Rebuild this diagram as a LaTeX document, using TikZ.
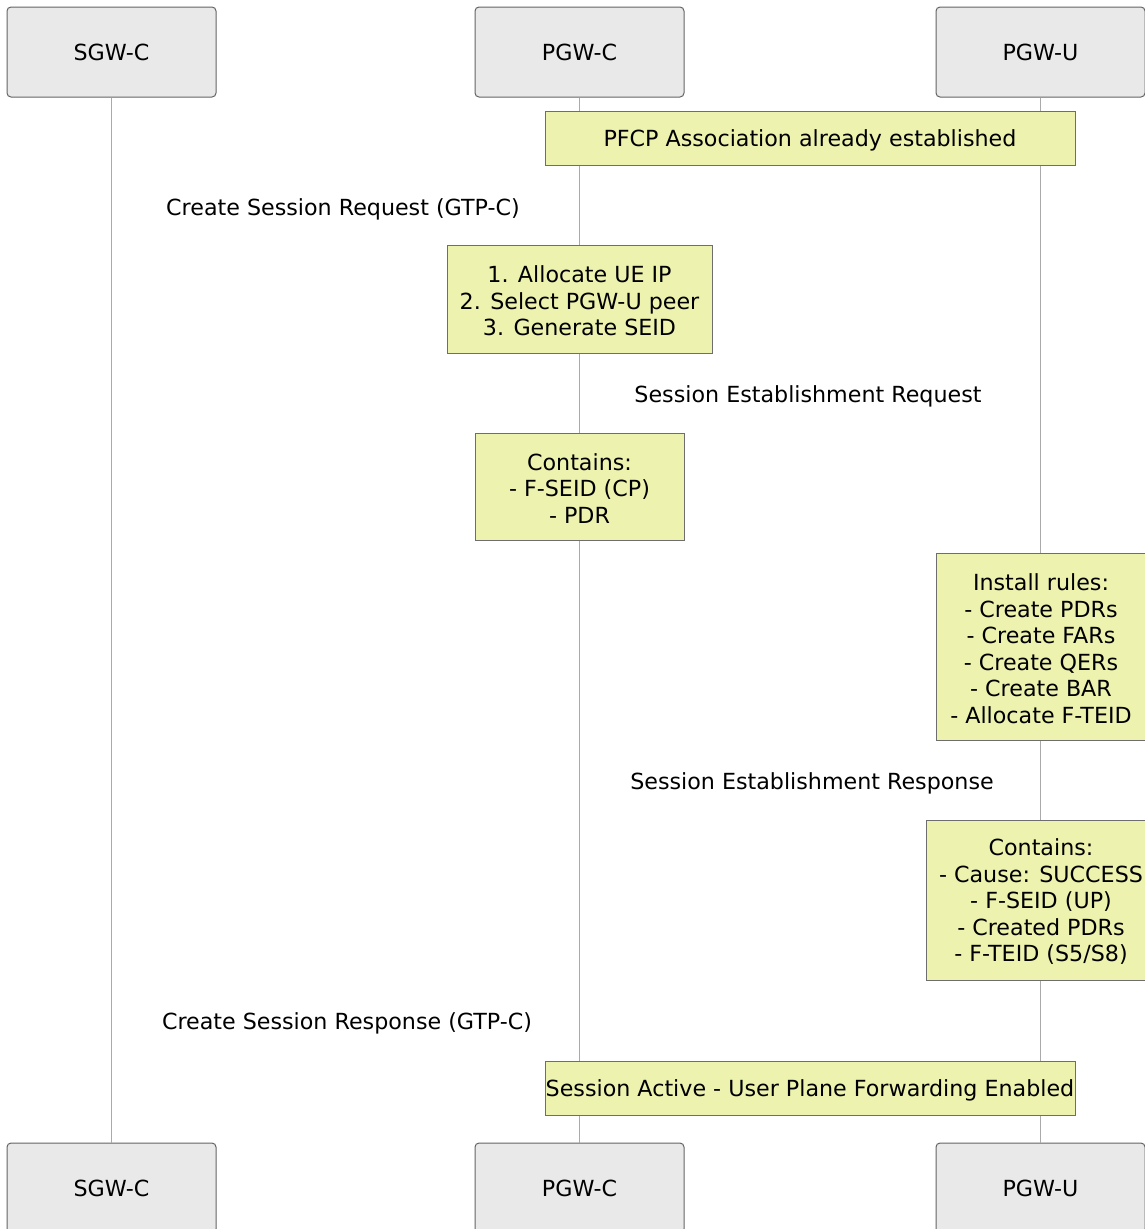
\documentclass[tikz,border=0pt]{standalone}
\usepackage{fontspec}
\setmainfont{DejaVu Sans}
\definecolor{notefill}{RGB}{237,242,174}
\definecolor{noteline}{RGB}{110,110,110}
\definecolor{partfill}{RGB}{233,233,233}
\definecolor{partline}{RGB}{100,100,100}
\definecolor{lifeline}{RGB}{170,170,170}
\tikzset{
  every node/.style={font=\fontsize{22.2}{26.5}\selectfont},
  part/.style={draw=partline, fill=partfill, rounded corners=4pt, line width=1pt,
    minimum width=209pt, minimum height=90pt, inner sep=0pt, align=center},
  note/.style={draw=noteline, fill=notefill, line width=1pt, inner sep=0pt},
  msg/.style={inner sep=0pt, align=center},
  life/.style={draw=lifeline, line width=1pt}
}
\begin{document}
\begin{tikzpicture}[x=1pt,y=1pt]
\useasboundingbox (0,0) rectangle (1145,-1229);
\clip (0,0) rectangle (1145,-1229);
% participants
\node[part] (sgwT) at (111.5,-52) {SGW-C};
\node[part] (pgwcT) at (579.5,-52) {PGW-C};
\node[part] (pgwuT) at (1040.5,-52) {PGW-U};
\node[part] (sgwB) at (111.5,-1188) {SGW-C};
\node[part] (pgwcB) at (579.5,-1188) {PGW-C};
\node[part] (pgwuB) at (1040.5,-1188) {PGW-U};
% lifelines
\draw[life] (sgwT.south) -- (sgwB.north);
\draw[life] (pgwcT.south) -- (pgwcB.north);
\draw[life] (pgwuT.south) -- (pgwuB.north);
% notes
\node[note, minimum width=530pt, minimum height=54pt] (pfcp) at (810,-138) {};
\node[msg] (pfcpT) at ([yshift=-2pt]pfcp.center) {PFCP Association already established};
\node[note, minimum width=265pt, minimum height=108pt] (alloc) at (579.5,-299) {};
\node[msg] (allocT) at ([yshift=-2pt]alloc.center) {1. Allocate UE IP\\2. Select PGW-U peer\\3. Generate SEID};
\node[note, minimum width=209pt, minimum height=107pt] (cont1) at (579.5,-486.5) {};
\node[msg] (cont1T) at ([yshift=-2pt]cont1.center) {Contains:\\- F-SEID (CP)\\- PDR};
\node[note, minimum width=210pt, minimum height=187pt] (install) at (1041,-646.5) {};
\node[msg] (installT) at ([yshift=-2pt]install.center) {Install rules:\\- Create PDRs\\- Create FARs\\- Create QERs\\- Create BAR\\- Allocate F-TEID};
\node[note, minimum width=230pt, minimum height=160pt] (cont2) at (1041,-900) {};
\node[msg] (cont2T) at ([yshift=-2pt]cont2.center) {Contains:\\- Cause: SUCCESS\\- F-SEID (UP)\\- Created PDRs\\- F-TEID (S5/S8)};
\node[note, minimum width=530pt, minimum height=54pt] (active) at (810,-1088) {};
\node[msg] (activeT) at ([yshift=-2pt]active.center) {Session Active - User Plane Forwarding Enabled};
% message labels
\node[msg] (m1) at (343,-209) {Create Session Request (GTP-C)};
\node[msg] (m2) at (808,-396) {Session Establishment Request};
\node[msg] (m3) at (812,-783) {Session Establishment Response};
\node[msg] (m4) at (347,-1023) {Create Session Response (GTP-C)};
\end{tikzpicture}
\end{document}
